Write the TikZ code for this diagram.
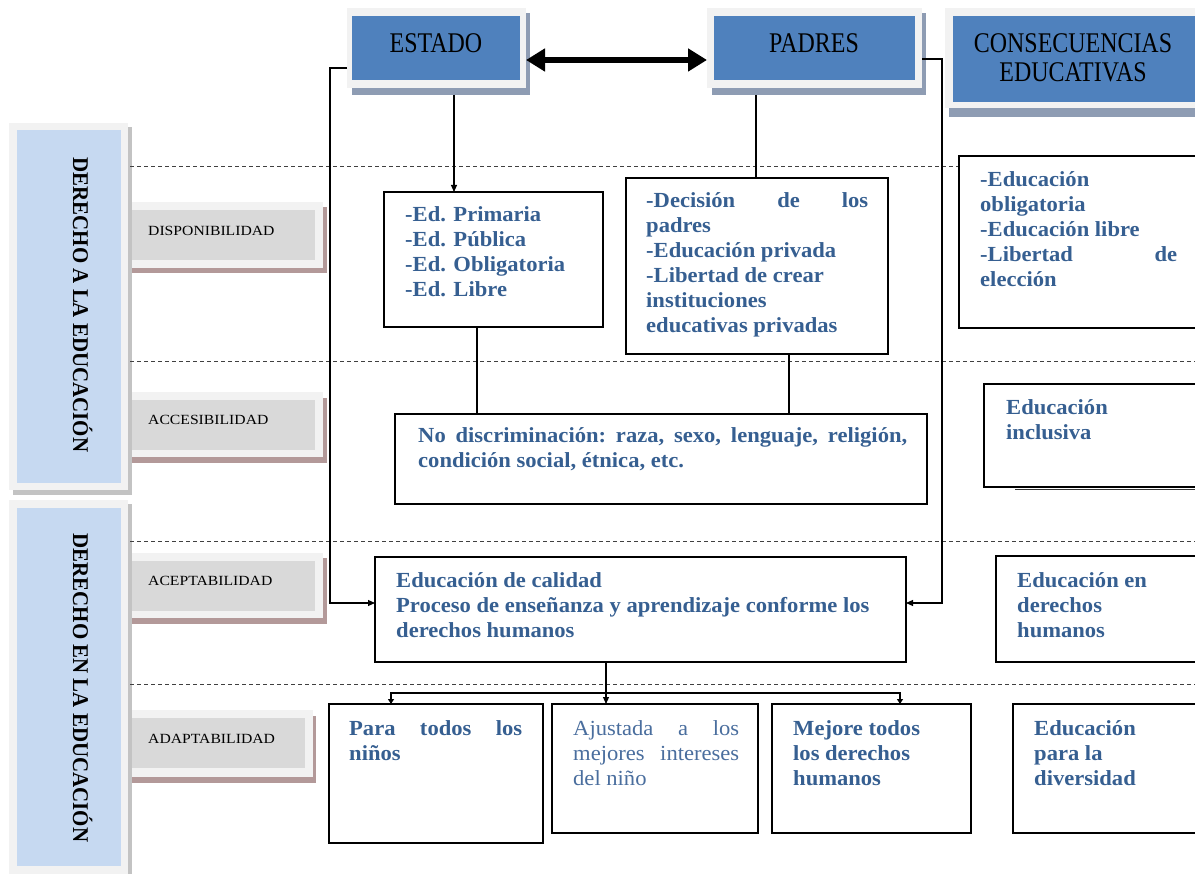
\documentclass[tikz,border=0pt]{standalone}
\usepackage{fontspec}
\setmainfont{Liberation Serif}
\newfontfamily\hdrfont[FakeStretch=0.84]{Liberation Serif}
\newfontfamily\sidefont[FakeStretch=0.93]{Liberation Serif}
\newfontfamily\lblfont[FakeStretch=1.12]{Liberation Serif}
\newfontfamily\txtfont[FakeStretch=1.05]{Liberation Serif}
\usetikzlibrary{arrows.meta,fit}
\definecolor{hblue}{HTML}{4F81BD}
\definecolor{hframe}{HTML}{F2F2F2}
\definecolor{hshadow}{HTML}{8E9CB3}
\definecolor{sblue}{HTML}{C6D9F1}
\definecolor{sshadow}{HTML}{C3C3C3}
\definecolor{lgrey}{HTML}{D9D9D9}
\definecolor{lshadow}{HTML}{B39999}
\definecolor{tblue}{HTML}{365F91}
\definecolor{tblue2}{HTML}{4A6E9E}
\definecolor{dashc}{HTML}{404040}
\begin{document}
\begin{tikzpicture}[x=1pt,y=-1pt,
  rbox/.style={inner sep=0pt, outer sep=0pt, draw=none},
  hshad/.style={rbox, fill=hshadow},
  hfr/.style={rbox, fill=hframe},
  hbl/.style={rbox, fill=hblue},
  sshad/.style={rbox, fill=sshadow},
  sbl/.style={rbox, fill=sblue},
  lshad/.style={rbox, fill=lshadow},
  lin/.style={rbox, fill=lgrey},
  cbox/.style={inner sep=0pt, outer sep=0pt, draw=black, line width=2pt, fill=white},
  hdrtxt/.style={inner sep=0pt, font=\hdrfont\fontsize{28.5}{29}\selectfont, text=black},
  sidetxt/.style={inner sep=0pt, font=\sidefont\bfseries\fontsize{22.5}{24}\selectfont, text=black, rotate=-90, anchor=base},
  lbltxt/.style={inner sep=0pt, font=\lblfont\fontsize{14}{16}\selectfont, text=black, anchor=west},
  txt/.style={inner sep=0pt, font=\txtfont\bfseries\fontsize{21.5}{25}\selectfont, text=tblue, anchor=base west},
  txtr/.style={inner sep=0pt, font=\txtfont\fontsize{21.5}{25}\selectfont, text=tblue2, anchor=base west},
  conn/.style={draw=black, line width=1.1pt},
  tip/.style={-{Triangle[length=7pt,width=6pt]}},
  dline/.style={draw=dashc, line width=1pt, dash pattern=on 4pt off 3pt}
]
\fill[white] (0,0) rectangle (1195,874);
\useasboundingbox (0,0) rectangle (1195,874);

% ---- label boxes (behind the side boxes)
\node[lshad, fit={(131,207) (327,273)}] (dispS) {};
\node[hfr, fit={(120,202) (323,268)}] (dispF) {};
\node[lin, fit={(129,210) (315,260)}] (disp) {};
\node[lbltxt] (dispT) at (148,231) {DISPONIBILIDAD};

\node[lshad, fit={(131,398) (327,463)}] (accS) {};
\node[hfr, fit={(120,392) (323,457)}] (accF) {};
\node[lin, fit={(129,400) (315,450)}] (acc) {};
\node[lbltxt] (accT) at (148,420) {ACCESIBILIDAD};

\node[lshad, fit={(131,558) (327,624)}] (acepS) {};
\node[hfr, fit={(120,553) (323,618)}] (acepF) {};
\node[lin, fit={(129,561) (315,611)}] (acep) {};
\node[lbltxt] (acepT) at (148,581) {ACEPTABILIDAD};

\node[lshad, fit={(131,716) (316,783)}] (adapS) {};
\node[hfr, fit={(120,710) (313,777)}] (adapF) {};
\node[lin, fit={(129,718) (305,768)}] (adap) {};
\node[lbltxt] (adapT) at (148,739) {ADAPTABILIDAD};

% ---- side boxes
\node[sshad, fit={(13,127) (132,495)}] (sideAS) {};
\node[hfr, fit={(9,123) (128,490)}] (sideAF) {};
\node[sbl, fit={(17,130) (121,483)}] (sideA) {};
\node[sidetxt] (sideAT) at (73,305) {DERECHO A LA EDUCACIÓN};

\node[sshad, fit={(13,504) (132,880)}] (sideBS) {};
\node[hfr, fit={(9,500) (128,880)}] (sideBF) {};
\node[sbl, fit={(17,508) (121,866)}] (sideB) {};
\node[sidetxt] (sideBT) at (73,688) {DERECHO EN LA EDUCACIÓN};

% ---- dashed separators
\coordinate (d1a) at (130,167); \coordinate (d1b) at (1195,167);
\coordinate (d2a) at (130,362); \coordinate (d2b) at (1195,362);
\coordinate (d3a) at (130,542); \coordinate (d3b) at (1195,542);
\coordinate (d4a) at (130,684); \coordinate (d4b) at (1195,684);
\draw[dline] (d1a) -- (d1b);
\draw[dline] (d2a) -- (d2b);
\draw[dline] (d3a) -- (d3b);
\draw[dline] (d4a) -- (d4b);

% ---- header boxes
\node[hshad, fit={(352,13) (530,95)}] (estadoS) {};
\node[hfr, fit={(347,8) (526,88)}] (estadoF) {};
\node[hbl, fit={(352,16) (520,80)}] (estado) {};
\node[hdrtxt] (estadoT) at (436,43) {ESTADO};

\node[hshad, fit={(712,13) (926,95)}] (padresS) {};
\node[hfr, fit={(707,8) (922,88)}] (padresF) {};
\node[hbl, fit={(714,16) (915,80)}] (padres) {};
\node[hdrtxt] (padresT) at (814,43) {PADRES};

\node[hshad, fit={(949,13) (1205,117)}] (consS) {};
\node[hfr, fit={(945,8) (1205,108)}] (consF) {};
\node[hbl, fit={(953,16) (1205,102)}] (cons) {};
\node[hdrtxt, align=center] (consT) at (1073,57.5) {CONSECUENCIAS\\EDUCATIVAS};

% ---- content boxes
\node[cbox, fit={(384,192) (603,327)}] (edprim) {};
\node[txt] (edprimT) at (405,222) {\parbox[t]{190pt}{-Ed. Primaria\\-Ed. Pública\\-Ed. Obligatoria\\-Ed. Libre}};

\node[cbox, fit={(626,178) (888,354)}] (decision) {};
\node[txt] (decisionT) at (646,208) {\parbox[t]{222pt}{-Decisión\hfill de\hfill los\\padres\\-Educación privada\\-Libertad de crear\\instituciones\\educativas privadas}};

\node[cbox, fit={(395,414) (927,504)}] (nodisc) {};
\node[txt] (nodiscT) at (418,443) {\parbox[t]{489pt}{No\hfill discriminación:\hfill raza,\hfill sexo,\hfill lenguaje,\hfill religión,\\condición social, étnica, etc.}};

\node[cbox, fit={(375,557) (906,662)}] (calidad) {};
\node[txt] (calidadT) at (396,587) {\parbox[t]{505pt}{Educación de calidad\\Proceso de enseñanza y aprendizaje conforme los\\derechos humanos}};

\node[cbox, fit={(329,704) (543,843)}] (para) {};
\node[txt] (paraT) at (349,735) {\parbox[t]{173pt}{Para\hfill todos\hfill los\\niños}};

\node[cbox, fit={(552,704) (758,833)}] (ajustada) {};
\node[txtr] (ajustadaT) at (573,735) {\parbox[t]{166pt}{Ajustada\hfill a\hfill los\\mejores\hfill intereses\\del niño}};

\node[cbox, fit={(772,704) (971,833)}] (mejore) {};
\node[txt] (mejoreT) at (793,735) {\parbox[t]{170pt}{Mejore todos\\los derechos\\humanos}};

\node[cbox, fit={(959,156) (1210,328)}] (cons1) {};
\node[txt] (cons1T) at (980,187) {\parbox[t]{197pt}{-Educación\\obligatoria\\-Educación libre\\-Libertad\hfill de\\elección}};

\node[cbox, fit={(984,384) (1210,487)}] (cons2) {};
\coordinate (c2sa) at (1015,489.5); \coordinate (c2sb) at (1195,489.5);
\draw[line width=1.5pt, draw=black!80] (c2sa) -- (c2sb);
\node[txt] (cons2T) at (1006,415) {\parbox[t]{170pt}{Educación\\inclusiva}};

\node[cbox, fit={(996,556) (1210,662)}] (cons3) {};
\node[txt] (cons3T) at (1017,587) {\parbox[t]{170pt}{Educación en\\derechos\\humanos}};

\node[cbox, fit={(1013,704) (1210,833)}] (cons4) {};
\node[txt] (cons4T) at (1034,735) {\parbox[t]{160pt}{Educación\\para la\\diversidad}};

% ---- connectors
\draw[line width=6pt, {Triangle[length=19pt,width=22pt]}-{Triangle[length=19pt,width=22pt]}]
  (estadoF.east |- 0,60) -- (padresF.west |- 0,60);
\draw[conn, tip] (estadoF.west |- 0,68) -- ++(-17,0) |- (calidad.west |- 0,603);
\draw[conn, tip] (padresF.east |- 0,59) -- ++(20,0) |- (calidad.east |- 0,603);
\draw[conn, tip] (454,0 |- estadoS.south) -- (454,0 |- edprim.north);
\draw[conn] (756,0 |- padresS.south) -- (756,0 |- decision.north);
\draw[conn] (477,0 |- edprim.south) -- (477,0 |- nodisc.north);
\draw[conn] (789,0 |- decision.south) -- (789,0 |- nodisc.north);
\coordinate (bus) at (606,693);
\draw[conn, tip] (606,0 |- calidad.south) -- (606,0 |- ajustada.north);
\draw[conn, -{Triangle[length=5pt,width=6pt]}] (bus) -| (391,0 |- para.north);
\draw[conn, -{Triangle[length=5pt,width=6pt]}] (bus) -| (900,0 |- mejore.north);
\end{tikzpicture}
\end{document}
